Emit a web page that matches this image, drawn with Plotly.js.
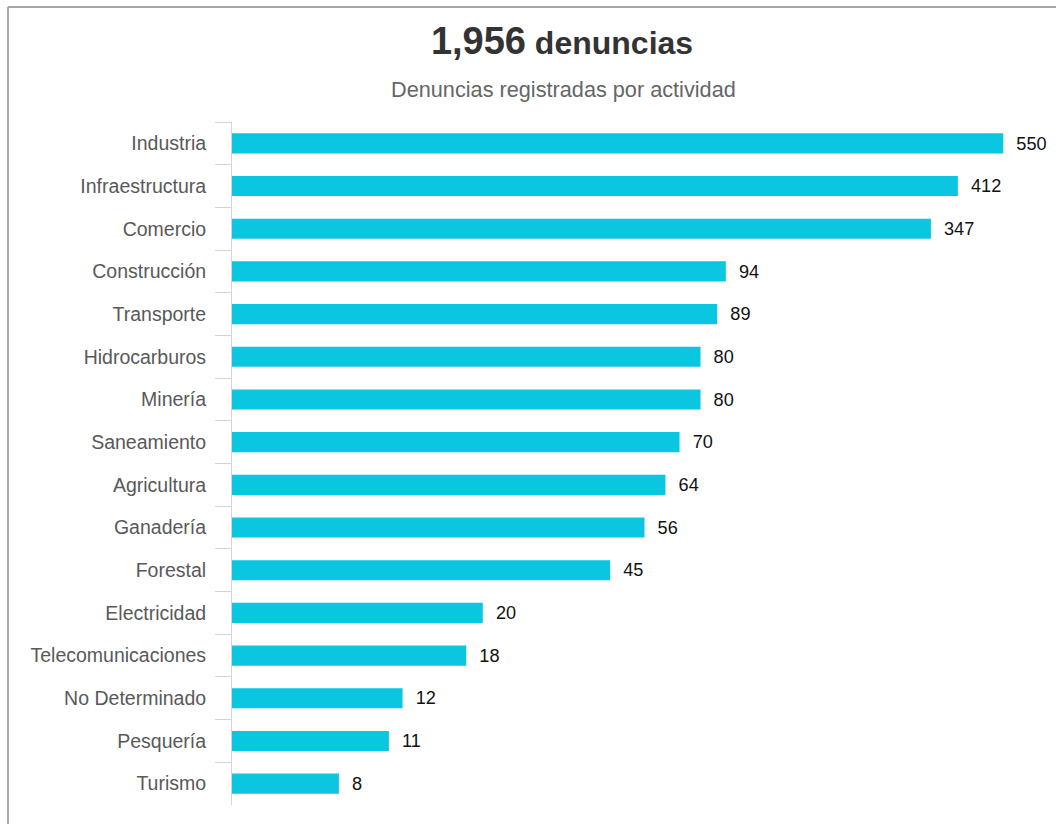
<!DOCTYPE html>
<html>
<head>
<meta charset="utf-8">
<script src="https://cdn.plot.ly/plotly-3.0.1.min.js"></script>
<style>
  html, body { margin: 0; padding: 0; background: #fff; }
  #chart { width: 1056px; height: 824px; }
</style>
</head>
<body>
<div id="chart"></div>
<script>
const categories = ["Industria", "Infraestructura", "Comercio", "Construcción", "Transporte",
  "Hidrocarburos", "Minería", "Saneamiento", "Agricultura", "Ganadería", "Forestal",
  "Electricidad", "Telecomunicaciones", "No Determinado", "Pesquería", "Turismo"];
const values = [550, 412, 347, 94, 89, 80, 80, 70, 64, 56, 45, 20, 18, 12, 11, 8];
const totalLabel = "1,956";
const titleWord = "denuncias";
const subtitle = "Denuncias registradas por actividad";

const font = "Liberation Sans, Arial, sans-serif";

const trace = {
  type: "bar",
  orientation: "h",
  y: categories,
  x: values,
  marker: { color: "rgb(11,198,224)", line: { width: 0 } },
  text: values.map(v => "\u00a0\u00a0" + v),
  textposition: "outside",
  textfont: { family: font, size: 19, color: "#111" },
  cliponaxis: false,
  hoverinfo: "skip"
};

const layout = {
  width: 1056,
  height: 824,
  margin: { l: 232, r: 46, t: 122, b: 19 },
  paper_bgcolor: "#fff",
  plot_bgcolor: "#fff",
  showlegend: false,
  bargap: 0.53,
  font: { family: font },
  title: {
    text: "<b><span style='font-size:38px'>" + totalLabel + "</span> " + titleWord + "</b>",
    font: { family: font, size: 32, color: "#333" },
    x: 562 / 1056, xanchor: "center", xref: "container",
    y: 1 - 43 / 824, yanchor: "middle", yref: "container"
  },
  annotations: [{
    text: subtitle,
    xref: "paper", yref: "paper",
    x: (563 - 232) / 778, y: (805 - 89) / 683,
    xanchor: "center", yanchor: "middle",
    showarrow: false,
    font: { family: font, size: 21.7, color: "#666" }
  }],
  xaxis: {
    type: "log",
    range: [Math.log10(4.05), 2.759],
    visible: false,
    showgrid: false,
    zeroline: false,
    fixedrange: true
  },
  yaxis: {
    type: "category",
    autorange: "reversed",
    showline: true,
    linecolor: "#ccd6eb",
    linewidth: 1,
    ticks: "outside",
    tickson: "boundaries",
    ticklen: 16,
    tickcolor: "#ccd6eb",
    tickwidth: 1,
    ticklabelstandoff: 21,
    showgrid: false,
    zeroline: false,
    tickfont: { family: font, size: 19.5, color: "#595959" },
    fixedrange: true
  },
  shapes: [
    { type: "line", xref: "paper", yref: "paper",
      x0: (8 - 232) / 778, x1: (8 - 232) / 778, y0: (805 - 840) / 683, y1: (805 - 7) / 683,
      line: { color: "#a6a6a6", width: 2 } },
    { type: "line", xref: "paper", yref: "paper",
      x0: (8 - 232) / 778, x1: (1070 - 232) / 778, y0: (805 - 7) / 683, y1: (805 - 7) / 683,
      line: { color: "#a6a6a6", width: 2 } }
  ]
};

Plotly.newPlot("chart", [trace], layout, { displayModeBar: false, staticPlot: true });
</script>
</body>
</html>
